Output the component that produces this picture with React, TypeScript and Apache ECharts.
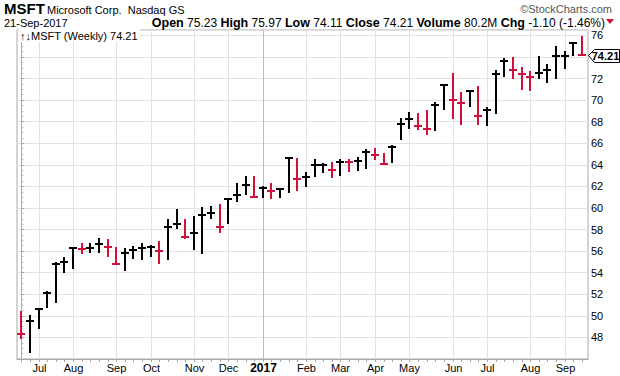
import React, { useEffect, useRef } from "react";
import * as echarts from "echarts";

const FONT = "'Liberation Sans', Arial, sans-serif";
const RED = "#d0103a";
const BLACK = "#000000";

const firstWeek = "2016-06-20"; // Monday of the first weekly bar
const priorClose = 49.9; // close of the week before the first bar

const highs = [
  50.46, 50.09, 50.67, 52.28, 55.03, 55.49, 56.32, 56.73, 56.73, 57.2,
  57.1, 56.36, 56.27, 56.48, 56.73, 56.55, 56.97, 58.98, 59.91, 58.98,
  59.29, 60.07, 60.19, 60.37, 60.9, 62.29, 62.94, 62.97, 62.04, 62.29,
  61.88, 64.7, 64.61, 63.37, 64.52, 64.2, 64.3, 64.52, 64.58, 64.76,
  65.44, 65.53, 65.13, 65.84, 68.32, 68.9, 68.81, 69.06, 69.83, 71.47,
  72.52, 70.76, 70.85, 71.31, 69.36, 72.82, 73.91, 74.0, 73.07, 72.67,
  74.06, 73.32, 74.99, 74.55, 75.39, 75.97,
];
const lows = [
  47.89, 46.54, 48.76, 50.77, 51.23, 53.95, 54.38, 55.77, 55.8, 55.8,
  55.49, 54.79, 54.19, 55.31, 55.19, 55.49, 54.81, 55.19, 58.09, 57.1,
  56.11, 55.77, 58.98, 57.71, 58.49, 60.59, 61.21, 60.9, 60.9, 60.81,
  60.9, 61.42, 61.61, 61.98, 62.91, 63.28, 62.81, 63.0, 63.37, 63.43,
  63.59, 64.45, 64.05, 64.14, 66.31, 67.3, 67.26, 66.74, 67.11, 69.06,
  68.22, 67.72, 69.36, 67.67, 67.58, 68.74, 72.14, 71.93, 70.97, 70.88,
  71.93, 71.62, 71.99, 72.91, 74.06, 74.11,
];
const closes = [
  48.3, 49.56, 50.6, 52.1, 54.84, 54.97, 56.3, 56.2, 56.3, 56.64,
  56.36, 54.8, 55.86, 56.11, 56.3, 56.42, 56.05, 58.27, 58.52, 57.29,
  57.66, 59.33, 59.54, 58.27, 60.85, 61.21, 62.14, 61.05, 61.83, 61.61,
  61.73, 64.68, 62.66, 62.91, 63.96, 63.96, 63.53, 64.3, 64.25, 64.39,
  65.22, 64.92, 64.11, 65.69, 67.79, 68.28, 67.6, 67.36, 69.58, 71.4,
  69.98, 69.7, 70.8, 68.53, 69.11, 72.45, 73.6, 72.76, 72.39, 72.14,
  72.54, 72.82, 74.09, 74.09, 75.31, 74.21,
];

const monthNames = ["Jan", "Feb", "Mar", "Apr", "May", "Jun", "Jul", "Aug", "Sep", "Oct", "Nov", "Dec"];

const yMin = 46;
const yMax = 76.5;
const yStep = 2;
const xMin = -0.5;
const xMax = 65.7;

// weekly dates (categories)
const weekDates: Date[] = closes.map((_, i) => {
  const d = new Date(firstWeek + "T00:00:00Z");
  d.setUTCDate(d.getUTCDate() + 7 * i);
  return d;
});

// month boundaries: first week whose Monday falls in a new month
const monthIdx: number[] = [];
const monthLbl: string[] = [];
const monthIsYear: boolean[] = [];
weekDates.forEach((d, i) => {
  if (i === 0) return;
  if (d.getUTCMonth() !== weekDates[i - 1].getUTCMonth()) {
    monthIdx.push(i);
    const isYear = d.getUTCMonth() === 0;
    monthLbl.push(isYear ? String(d.getUTCFullYear()) : monthNames[d.getUTCMonth()]);
    monthIsYear.push(isYear);
  }
});

export default function App() {
  const ref = useRef<HTMLDivElement>(null);
  useEffect(() => {
    const chart = echarts.init(ref.current!, null, { renderer: "svg" });
    const barData = closes.map((c, i) => {
      const prev = i === 0 ? priorClose : closes[i - 1];
      return [i, highs[i], lows[i], c, c < prev ? 1 : 0];
    });
    const last = closes.length - 1;

    const option: any = {
      animation: false,
      textStyle: { fontFamily: FONT },
      grid: {
        left: 17, right: 32, top: 30, bottom: 17,
        show: true, borderColor: "#a8a8a8", borderWidth: 1, backgroundColor: "#fff",
      },
      xAxis: {
        type: "value", min: xMin, max: xMax,
        axisLine: { show: true, onZero: false, lineStyle: { color: "#a8a8a8" } },
        axisTick: { show: false }, axisLabel: { show: false }, splitLine: { show: false },
      },
      yAxis: {
        type: "value", position: "right", min: yMin, max: yMax, interval: yStep,
        axisLine: { show: true, lineStyle: { color: "#a8a8a8" } },
        axisTick: { show: true, length: 3, lineStyle: { color: "#a8a8a8" } },
        minorTick: { show: true, splitNumber: 4, length: 2, lineStyle: { color: "#b8b8b8" } },
        axisLabel: {
          color: "#000", fontSize: 11, margin: 3, fontFamily: FONT,
          showMinLabel: false, showMaxLabel: false,
          formatter: (v: number) => (Math.abs(v - closes[last]) < 1.2 ? "" : String(v)),
        },
        splitLine: { show: true, lineStyle: { color: "#e2e2e2", width: 1 } },
      },
      series: [
        {
          type: "custom", name: "months", z: 1, clip: false, silent: true,
          data: monthIdx.map((i) => [i, yMin]),
          encode: { x: 0, y: 1 },
          renderItem: (params: any, api: any) => {
            const k = params.dataIndex;
            const cs = params.coordSys;
            const p = api.coord([api.value(0), yMin]);
            const x = Math.round(p[0]) + 0.5;
            return {
              type: "group",
              children: [
                {
                  type: "line",
                  shape: { x1: x, y1: cs.y, x2: x, y2: cs.y + cs.height },
                  style: { stroke: monthIsYear[k] ? "#bcbcbc" : "#e2e2e2", lineWidth: 1 },
                },
                {
                  type: "text",
                  style: {
                    text: monthLbl[k], x: x, y: cs.y + cs.height + 9,
                    align: "center", verticalAlign: "middle",
                    fontSize: monthIsYear[k] ? 12 : 11,
                    fontWeight: monthIsYear[k] ? "bold" : "normal",
                    fill: "#000", fontFamily: FONT,
                  },
                },
              ],
            };
          },
        },
        {
          type: "custom", name: "weekTicks", z: 2, clip: false, silent: true,
          data: closes.map((_, i) => [i, yMin]),
          encode: { x: 0, y: 1 },
          renderItem: (params: any, api: any) => {
            const p = api.coord([api.value(0), yMin]);
            const x = Math.round(p[0]) + 0.5;
            return {
              type: "line",
              shape: { x1: x, y1: p[1] + 1, x2: x, y2: p[1] + 3 },
              style: { stroke: "#a8a8a8", lineWidth: 1 },
            };
          },
        },
        {
          type: "custom", name: "MSFT", z: 3, clip: false,
          data: barData,
          encode: { x: 0, y: [1, 2, 3] },
          renderItem: (params: any, api: any) => {
            const i = api.value(0);
            const pH = api.coord([i, api.value(1)]);
            const pL = api.coord([i, api.value(2)]);
            const pC = api.coord([i, api.value(3)]);
            const color = api.value(4) ? RED : BLACK;
            const x = Math.round(pH[0]);
            const yc = Math.round(pC[1]);
            return {
              type: "group",
              children: [
                {
                  type: "line",
                  shape: { x1: x, y1: Math.round(pH[1]), x2: x, y2: Math.round(pL[1]) },
                  style: { stroke: color, lineWidth: 2 },
                },
                {
                  type: "line",
                  shape: { x1: x - 4, y1: yc, x2: x + 4, y2: yc },
                  style: { stroke: color, lineWidth: 2 },
                },
              ],
            };
          },
        },
        {
          type: "custom", name: "lastTag", z: 5, clip: false, silent: true,
          data: [[xMax, closes[last]]],
          encode: { x: 0, y: 1 },
          renderItem: (params: any, api: any) => {
            const p = api.coord([api.value(0), api.value(1)]);
            const x0 = Math.round(p[0]) + 0.5;
            const y = Math.round(p[1]) + 0.5;
            return {
              type: "group",
              children: [
                {
                  type: "polygon",
                  shape: { points: [[x0, y], [x0 + 6, y - 6], [x0 + 31, y - 6], [x0 + 31, y + 7], [x0 + 6, y + 7]] },
                  style: { fill: "#fff", stroke: "#000", lineWidth: 1 },
                },
                {
                  type: "text",
                  style: {
                    text: closes[last].toFixed(2), x: x0 + 17, y: y + 0.5,
                    align: "center", verticalAlign: "middle",
                    fontSize: 11, fontWeight: "bold", fill: "#000", fontFamily: FONT,
                  },
                },
              ],
            };
          },
        },
      ],
      graphic: [
        {
          type: "text", left: 4, top: 1, z: 10,
          style: { text: "MSFT", fontSize: 15, fontWeight: "bold", fill: "#000", fontFamily: FONT },
        },
        {
          type: "text", left: 47, top: 4, z: 10,
          style: { text: "Microsoft Corp.  Nasdaq GS", fontSize: 11, fill: "#000", fontFamily: FONT },
        },
        {
          type: "text", right: 8, top: 3, z: 10,
          style: { text: "©StockCharts.com", fontSize: 11, fill: "#555", fontFamily: FONT },
        },
        {
          type: "text", left: 4, top: 17, z: 10,
          style: { text: "21-Sep-2017", fontSize: 11, fill: "#000", fontFamily: FONT },
        },
        {
          type: "text", right: 15, top: 16, z: 10,
          style: {
            text:
              "{b|Open} 75.23 {b|High} " + highs[last].toFixed(2) +
              " {b|Low} " + lows[last].toFixed(2) +
              " {b|Close} " + closes[last].toFixed(2) +
              " {b|Volume} 80.2M {b|Chg} -1.10 (-1.46%)",
            fontSize: 12, fill: "#000", fontFamily: FONT,
            rich: { b: { fontWeight: "bold", fontSize: 12.5, fontFamily: FONT, fill: "#000" } },
          },
        },
        {
          type: "polygon", z: 10,
          shape: { points: [[606, 19], [614, 19], [610, 24]] },
          style: { fill: RED },
        },
        {
          type: "text", left: 19, top: 29, z: 10,
          style: {
            text: "↑↓MSFT (Weekly) 74.21", fontSize: 11, fill: "#000", fontFamily: FONT,
            backgroundColor: "#fff", padding: [1, 2, 1, 1],
          },
        },
      ],
    };
    chart.setOption(option);
    return () => chart.dispose();
  }, []);
  return (
    <div
      ref={ref}
      style={{ width: 620, height: 376, position: "absolute", left: 0, top: 0, background: "#fff" }}
    />
  );
}
